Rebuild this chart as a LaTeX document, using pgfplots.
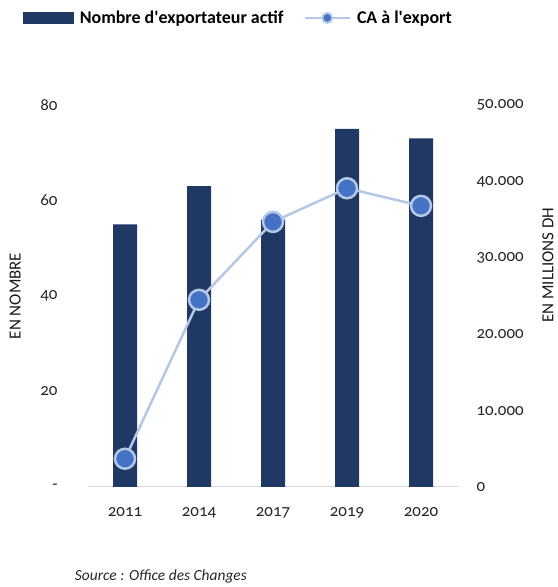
\documentclass[border=0pt]{standalone}
\usepackage{fontspec}
\setmainfont{Carlito}[Numbers=OldStyle]
\usepackage{pgfplots}
\pgfplotsset{compat=1.18}
\definecolor{navy}{RGB}{31,56,100}
\definecolor{ptblue}{RGB}{68,114,196}
\definecolor{lnblue}{RGB}{180,199,231}
\definecolor{axgray}{RGB}{217,217,217}

% x  year  exporters  turnover (MDH)
\pgfplotstableread{
x year n ca
0 2011 55 3700
1 2014 63 24500
2 2017 56 34700
3 2019 75 39100
4 2020 73 36800
}\data

\pgfplotsset{
  common/.style={
    scale only axis, width=370bp, height=382bp,
    at={(88bp,100bp)}, anchor=south west,
    xmin=-0.5, xmax=4.5,
    major tick length=0, clip=false,
    tick label style={font=\fontsize{17}{19}\selectfont, text=black!85},
  }
}

\begin{document}
\begin{tikzpicture}[x=1bp,y=1bp]
\path (0,0) rectangle (558,587);

\begin{axis}[
  common,
  ymin=0, ymax=80,
  axis x line*=bottom, axis y line*=left,
  x axis line style={draw=axgray, line width=1bp, -},
  y axis line style={draw=none},
  xtick={0,...,4}, xticklabels={2011,2014,2017,2019,2020},
  xticklabel style={yshift=-17bp},
  ytick={0,20,40,60,80}, yticklabels={-,20,40,60,80},
  yticklabel style={xshift=-27bp},
  ylabel={EN NOMBRE},
  ylabel style={at={(axis description cs:-0.197,0.5)}, anchor=center,
    font=\fontsize{17}{19}\selectfont, text=black!90},
]
\addplot[ybar, bar width=24bp, fill=navy, draw=none] table[x=x, y=n] {\data};
\node[font=\itshape\fontsize{15.5}{17}\selectfont, text=black!85]
  at (axis description cs:0.197,-0.233) {Source : Office des Changes};
\end{axis}

\begin{axis}[
  common,
  ymin=0, ymax=50000,
  scaled y ticks=false,
  axis x line=none,
  axis y line*=right,
  y axis line style={draw=none},
  xtick=\empty,
  ytick={0,10000,...,50000},
  yticklabels={0,10.000,20.000,30.000,40.000,50.000},
  yticklabel style={xshift=15bp},
  ylabel={EN MILLIONS DH},
  ylabel style={at={(axis description cs:1.243,0.581)}, anchor=center,
    font=\fontsize{17}{19}\selectfont, text=black!90},
  legend columns=2,
  legend style={at={(axis description cs:0.407,1.228)}, anchor=center,
    draw=none, fill=none, font=\bfseries\fontsize{18}{20}\selectfont,
    /tikz/every even column/.append style={column sep=18bp}},
]
\addlegendimage{legend image code/.code={
    \fill[navy] (0bp,-5.5bp) rectangle (50bp,5.5bp);
    \path (54bp,0bp);}}
\addlegendentry{Nombre d\textquotesingle exportateur actif}
\addplot[lnblue, line width=2.5bp, mark=*, mark size=10bp,
  mark options={fill=ptblue, draw=lnblue, line width=2.5bp},
  legend image code/.code={
    \draw[lnblue, line width=2.5bp] (0bp,0bp) -- (45bp,0bp);
    \draw[lnblue, line width=2bp, fill=ptblue] (22.5bp,0bp) circle (5bp);
    \path (49bp,0bp);}]
  table[x=x, y=ca] {\data};
\addlegendentry{CA à l\textquotesingle export}
\end{axis}
\end{tikzpicture}
\end{document}
